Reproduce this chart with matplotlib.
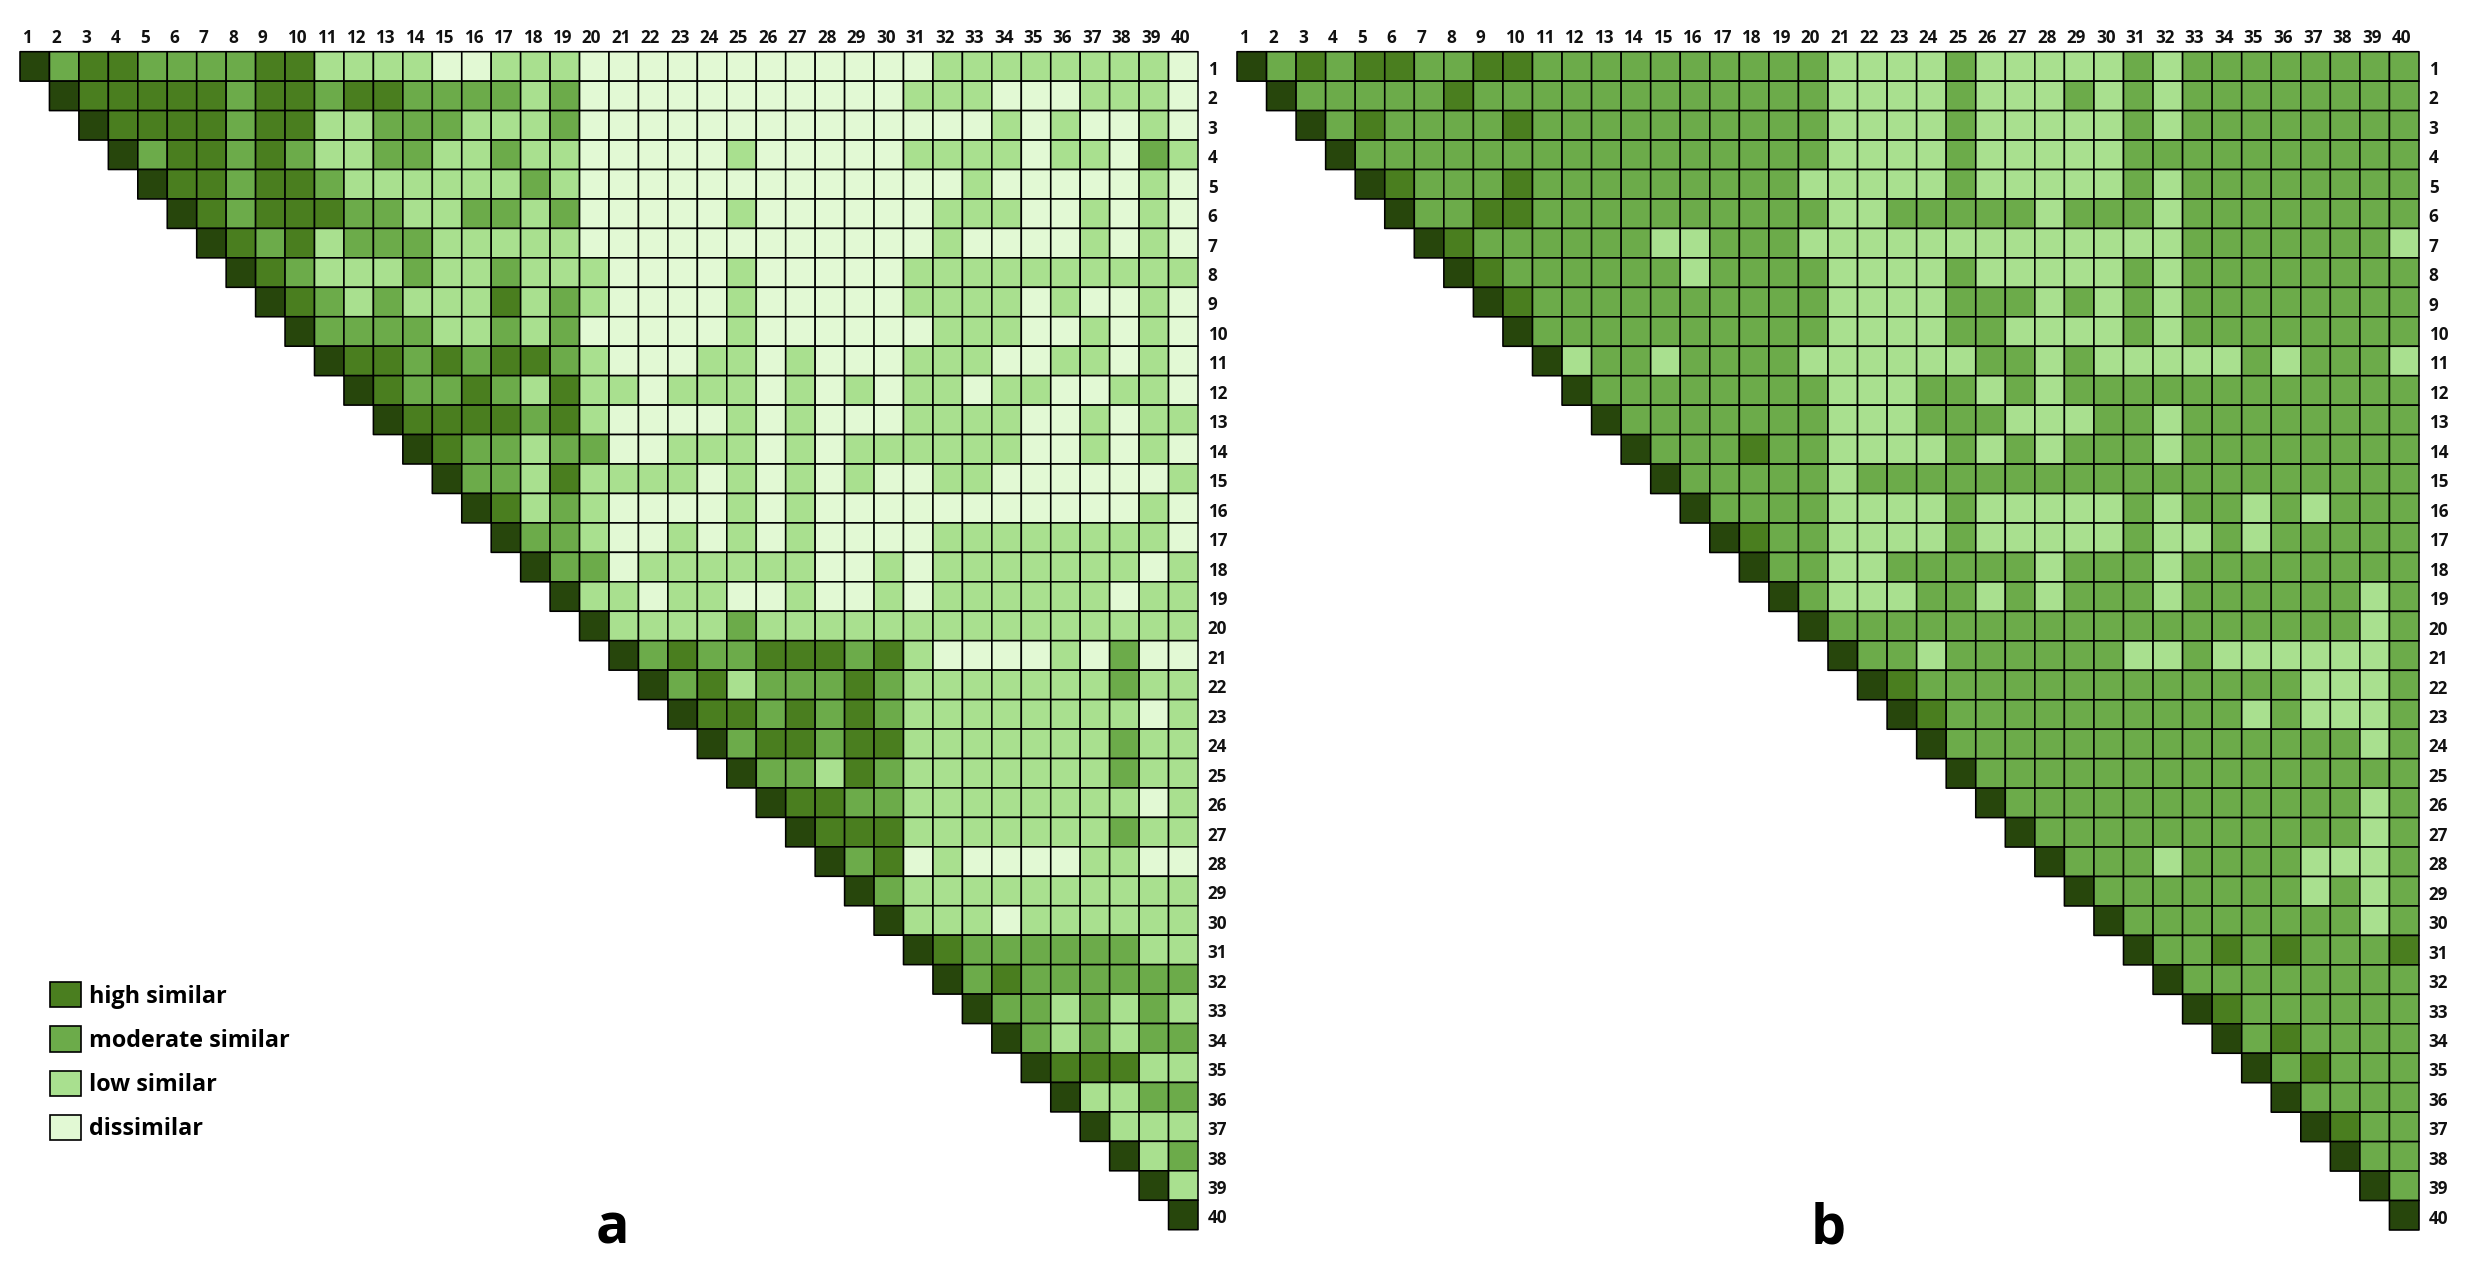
import numpy as np
import matplotlib
matplotlib.use("Agg")
import matplotlib.pyplot as plt
from matplotlib.colors import ListedColormap, BoundaryNorm
from matplotlib.patches import Patch

W, H = 2474, 1271
FONT = "Open Sans"

labels = [str(i) for i in range(1, 41)]
level_names = ["dissimilar", "low similar", "moderate similar", "high similar"]
level_colors = ["#e2f9d4", "#a9e08f", "#6cab4a", "#4a7e1f", "#27460c"]

# 0 dissimilar, 1 low, 2 moderate, 3 high, 4 diagonal, . empty
rows_a = [
    "4233222233 1111001110 0000000000 0111111110",
    ".433333233 2332222120 0000000000 1110001110",
    "..43333233 1122211120 0000000000 0001010010",
    "...4233232 1122112110 0000100000 1111011021",
    "....433233 2111111210 0000000000 0010000010",
    ".....43233 3221122120 0000100000 0111001010",
    "......4323 1222111110 0000000000 0100001010",
    ".......432 1112112111 0000100000 1111111111",
    "........43 2121113121 0000100000 1111010010",
    ".........4 2222112120 0000100000 0111001010",
    ".......... 4332323321 0001101000 1110011010",
    ".......... .432232131 1011101010 1101100110",
    ".......... ..43333231 0000101000 1111001011",
    ".......... ...4322122 0011101011 1111001010",
    ".......... ....422131 1110101010 0110000001",
    ".......... .....43121 0000101000 0000000010",
    ".......... ......4221 0010101000 0111111110",
    ".......... .......422 0111111001 0111111101",
    ".......... ........41 1011001001 0111111011",
    ".......... .........4 1111211111 1111111111",
    ".......... .......... 4232233323 1000010200",
    ".......... .......... .423122232 1111111211",
    ".......... .......... ..43323232 1111111101",
    ".......... .......... ...4233233 1111111211",
    ".......... .......... ....422132 1111111211",
    ".......... .......... .....43322 1111111101",
    ".......... .......... ......4333 1111111211",
    ".......... .......... .......423 0100001100",
    ".......... .......... ........42 1111111111",
    ".......... .......... .........4 1110111111",
    ".......... .......... .......... 4322222211",
    ".......... .......... .......... .423222222",
    ".......... .......... .......... ..42212121",
    ".......... .......... .......... ...4212122",
    ".......... .......... .......... ....433311",
    ".......... .......... .......... .....41122",
    ".......... .......... .......... ......4111",
    ".......... .......... .......... .......412",
    ".......... .......... .......... ........41",
    ".......... .......... .......... .........4",
]

rows_b = [
    "4232332233 2222222222 1111211111 2122222222",
    ".422222322 2222222222 1111211121 2122222222",
    "..42322223 2222222222 1111211111 2122222222",
    "...4222222 2222222222 1111211111 2222222222",
    "....432223 2222222221 1111211111 2122222222",
    ".....42233 2222222222 1122222122 2122222222",
    "......4322 2222112221 1111111111 1122222221",
    ".......432 2222212222 1111211111 2122222222",
    "........43 2222222222 1111222121 2122222222",
    ".........4 2222222222 1111221111 2122222222",
    ".......... 4122122221 1111122121 1111212221",
    ".......... .422222222 1112212122 2222222222",
    ".......... ..42222222 1112221112 2122222222",
    ".......... ...4222322 1111212122 2122222222",
    ".......... ....422222 1222222222 2222222222",
    ".......... .....42222 1111211111 2122121222",
    ".......... ......4322 1111211111 2112122222",
    ".......... .......422 1122222122 2122222222",
    ".......... ........42 1112212122 2122222212",
    ".......... .........4 2222222222 2222222212",
    ".......... .......... 4221222222 1121111112",
    ".......... .......... .432222222 2222221112",
    ".......... .......... ..43222222 2222121112",
    ".......... .......... ...4222222 2222222212",
    ".......... .......... ....422222 2222222222",
    ".......... .......... .....42222 2222222212",
    ".......... .......... ......4222 2222222212",
    ".......... .......... .......422 2122221112",
    ".......... .......... ........42 2222221212",
    ".......... .......... .........4 2222222212",
    ".......... .......... .......... 4223232223",
    ".......... .......... .......... .422222222",
    ".......... .......... .......... ..43222222",
    ".......... .......... .......... ...4232222",
    ".......... .......... .......... ....423222",
    ".......... .......... .......... .....42222",
    ".......... .......... .......... ......4322",
    ".......... .......... .......... .......422",
    ".......... .......... .......... ........42",
    ".......... .......... .......... .........4",
]


def to_matrix(rows):
    cells = [[np.nan if c == "." else int(c) for c in r.replace(" ", "")] for r in rows]
    return np.ma.masked_invalid(np.array(cells, dtype=float))


def px_axes(fig, x0, x1, y0, y1):
    return fig.add_axes([x0 / W, 1 - y1 / H, (x1 - x0) / W, (y1 - y0) / H])


cmap = ListedColormap(level_colors)
norm = BoundaryNorm(np.arange(-0.5, 5.5), cmap.N)

fig = plt.figure(figsize=(W / 100, H / 100), dpi=100, facecolor="white")


def panel(rows, box, name, name_x):
    ax = px_axes(fig, *box)
    ax.pcolor(np.arange(41), np.arange(41), to_matrix(rows), cmap=cmap, norm=norm,
              edgecolors="black", linewidth=1.15, clip_on=False)
    ax.set_xlim(0, 40)
    ax.set_ylim(40, 0)
    for s in ax.spines.values():
        s.set_visible(False)
    ax.set_xticks(np.arange(40) + 0.07, labels, fontfamily=FONT, fontweight="bold", fontsize=12.3, ha="left", color="#111111")
    ax.set_yticks(np.arange(40) + 0.55, labels, fontfamily=FONT, fontweight="bold", fontsize=12.3, color="#111111")
    ax.xaxis.tick_top()
    ax.yaxis.tick_right()
    ax.tick_params(axis="x", length=0, pad=3.5)
    ax.tick_params(axis="y", length=0, pad=7)
    fig.text(name_x / W, 1 - 1243 / H, name, fontfamily=FONT, fontweight="bold", fontsize=40,
             ha="center", va="baseline", color="black")
    return ax


ax_a = panel(rows_a, (20, 1198, 51.7, 1229.7), "a", 612)
ax_b = panel(rows_b, (1237, 2419, 51.7, 1230), "b", 1828)

handles = [Patch(facecolor=level_colors[i], edgecolor="black", linewidth=1.2, label=level_names[i])
           for i in (3, 2, 1, 0)]
leg = ax_a.legend(handles=handles, loc="upper left", bbox_to_anchor=(50 / W, 1 - 982 / H),
                  bbox_transform=fig.transFigure, frameon=False, borderpad=0, borderaxespad=0,
                  prop={"family": FONT, "weight": "bold", "size": 16.8},
                  handlelength=1.33, handleheight=1.3, labelspacing=0.76, handletextpad=0.33)

fig.savefig("out.png", dpi=100, facecolor="white")
